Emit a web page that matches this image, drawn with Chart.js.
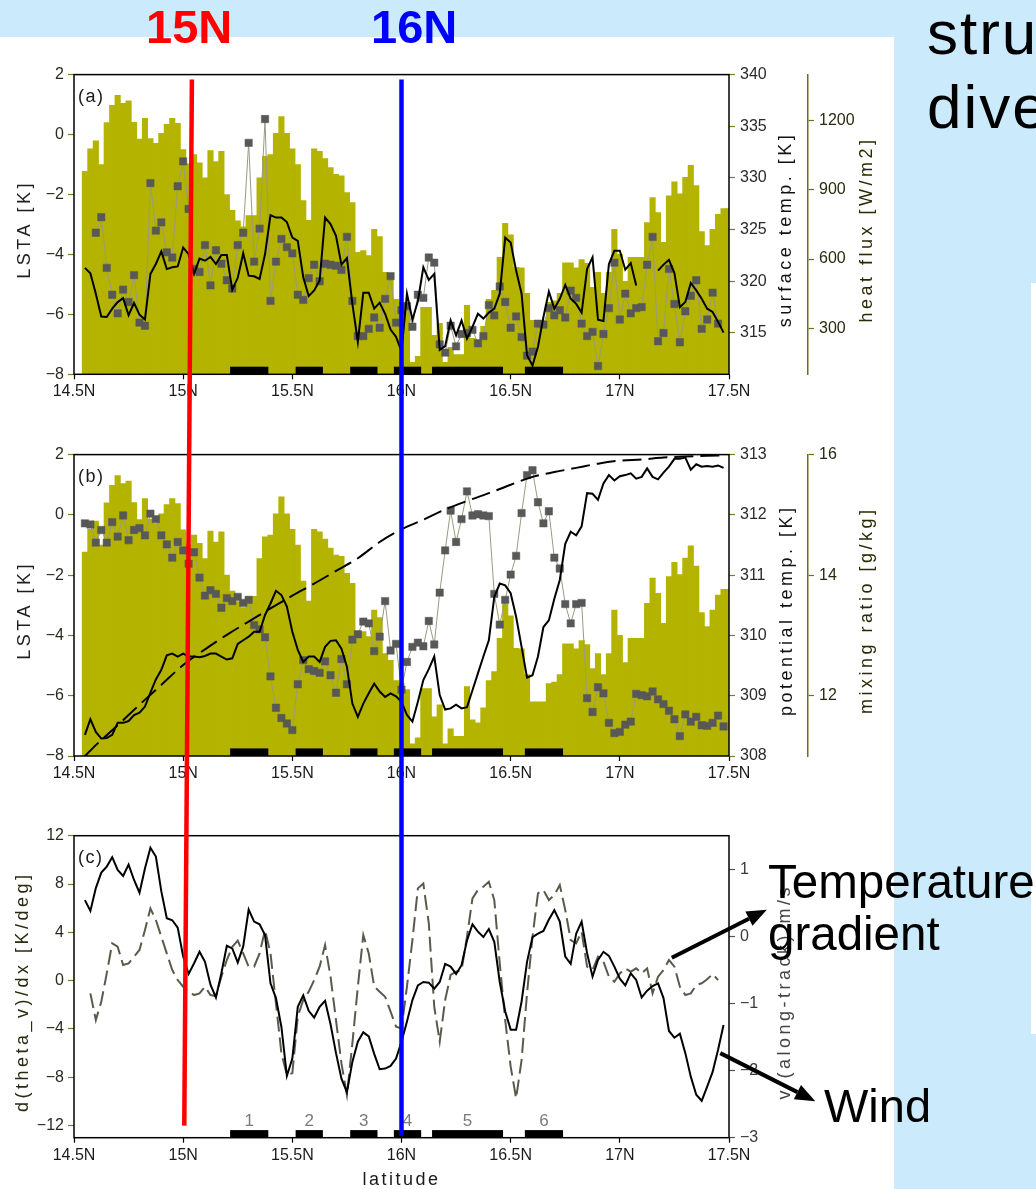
<!DOCTYPE html>
<html>
<head>
<meta charset="utf-8">
<script src="https://cdn.jsdelivr.net/npm/chart.js@4.4.0/dist/chart.umd.min.js"></script>
<style>
  html, body { margin: 0; padding: 0; }
  body { width: 1036px; height: 1189px; position: relative; overflow: hidden; background: #cbeafc;
         font-family: 'Liberation Sans', Arial, sans-serif; }
  #sheet { position: absolute; left: 0; top: 37px; width: 894px; height: 1152px; background: #fff; }
  #sheet2 { position: absolute; left: 1031px; top: 283px; width: 5px; height: 751px; background: #fff; }
  canvas.panel { position: absolute; left: 0; }
  #over { position: absolute; left: 0; top: 0; }
  .t { position: absolute; white-space: nowrap; line-height: 1; color: #000; }
</style>
</head>
<body>
<div id="sheet"></div>
<div id="sheet2"></div>
<canvas id="pa" class="panel" width="893" height="345" style="top:60px"></canvas>
<canvas id="pb" class="panel" width="893" height="345" style="top:440px"></canvas>
<canvas id="pc" class="panel" width="893" height="369" style="top:820px"></canvas>
<canvas id="over" width="1036" height="1189"></canvas>
<div class="t" style="left:146px;top:3px;font-size:47px;font-weight:bold;color:#f00">15N</div>
<div class="t" style="left:371px;top:3px;font-size:47px;font-weight:bold;color:#00f">16N</div>
<div class="t" style="left:927px;top:2px;font-size:62px;letter-spacing:2px">stru</div>
<div class="t" style="left:927px;top:76px;font-size:62px;letter-spacing:2px">dive</div>
<div class="t" style="left:768px;top:858px;font-size:47.5px">Temperature</div>
<div class="t" style="left:768px;top:910px;font-size:47.5px">gradient</div>
<div class="t" style="left:824px;top:1082px;font-size:47px">Wind</div>
<script>
// latitude grid: 14.55N .. 17.5N every 0.025 deg
const latStart = 14.55, latStep = 0.025;

// olive bars (heat flux, W/m2) - same bars shown in (a) and (b)
const heatFlux = [980,1078,1113,1010,1192,1267,1310,1275,1286,1193,
  1120,1210,1122,1102,1145,1184,1210,1189,1075,1013,
  1053,1017,952,1070,1023,1067,880,811,766,740,
  789,789,952,1045,1053,1145,1218,1145,1078,1010,
  854,768,1078,1067,1036,997,967,961,888,845,
  629,637,615,729,697,542,513,425,412,386,
  152,178,391,391,269,321,152,217,185,185,
  399,256,243,308,425,464,607,755,705,564,
  562,451,334,334,334,412,419,451,584,584,
  562,598,581,477,542,451,542,729,620,503,
  607,607,607,758,867,802,672,874,935,883,
  954,1006,919,719,658,729,794,819,819];

// (a) grey squares: surface temperature [K]
const surfTemp = [null,null,
  324.7,326.2,321.3,318.7,316.9,319.2,318.0,320.6,316.0,315.7,
  329.5,324.9,325.7,322.8,322.3,329.2,331.6,327.0,321.2,320.9,
  323.5,319.6,323.0,321.7,320.1,319.3,323.5,324.7,333.4,321.9,
  325.1,335.7,318.1,321.9,324.1,323.3,322.7,318.7,318.2,320.3,
  321.6,320.0,321.7,321.6,321.5,321.1,324.3,318.1,314.7,314.7,
  315.4,316.5,315.5,318.3,320.5,316.0,317.2,317.6,315.6,318.7,
  318.4,322.3,321.8,313.9,313.1,315.7,313.7,314.9,315.0,315.3,
  314.0,314.7,317.7,316.7,319.5,318.0,315.5,316.6,314.6,312.8,
  313.2,315.9,315.8,317.4,316.7,317.2,316.5,319.1,318.4,315.9,
  314.7,315.1,311.8,314.9,317.4,321.8,316.3,318.8,316.9,317.4,
  317.5,321.6,324.3,314.2,315.0,321.2,317.8,314.1,317.1,318.6,
  320.1,315.4,316.3,318.9,315.9,
  null,null];

// (a) black line: LSTA [K]
const lstaA = [-4.45,-4.63,-5.31,-6.07,-6.09,-5.81,-5.59,-5.46,-6.03,-5.62,
  -6.01,-6.17,-4.65,-4.32,-3.9,-4.49,-4.43,-4.4,-3.77,-3.99,
  -4.65,-4.14,-4.21,-4.08,-4.32,-4.02,-4.02,-5.18,-4.78,-3.96,
  -4.71,-4.73,-4.82,-3.99,-2.69,-2.77,-2.77,-2.92,-3.44,-3.55,
  -4.76,-5.39,-5.2,-4.87,-2.77,-2.99,-3.38,-4.34,-4.12,-5.65,
  -6.92,-5.28,-5.28,-5.81,-5.61,-5.98,-6.51,-6.75,-7.23,-5.31,
  -6.18,-5.56,-4.43,-4.85,-4.65,-7.19,-7.06,-6.2,-6.7,-6.2,
  -6.81,-6.42,-5.98,-6.14,-5.94,-5.81,-5.31,-3.44,-3.6,-4.54,
  -5.31,-7.36,-7.71,-7.08,-6.09,-5.24,-5.81,-5.48,-5.02,-5.48,
  -5.65,-5.94,-4.49,-4.1,-6.18,-6.22,-4.32,-3.88,-3.88,-4.51,
  -4.29,-5.04,null,null,null,-4.54,-4.34,-4.18,-4.62,-5.76,
  -5.59,-4.95,-5.2,-5.48,-5.81,-5.92,-6.25,-6.61,null];

// (b) grey squares: mixing ratio [g/kg]
const mixRatio = [14.86,14.84,14.54,14.75,14.54,14.88,14.64,14.99,14.58,14.75,
  14.78,14.66,15.02,14.93,14.66,14.51,14.29,14.55,14.41,14.19,
  14.38,13.96,13.66,13.75,13.69,13.46,13.62,13.57,13.64,13.54,
  13.59,13.17,13.10,12.97,12.32,11.80,11.63,11.54,11.43,12.19,
  12.59,12.44,12.41,12.38,12.57,12.34,12.05,12.61,12.19,12.93,
  13.02,13.23,13.20,12.74,12.98,13.57,12.75,12.86,12.10,12.56,
  12.81,12.88,12.82,13.24,12.85,13.71,14.41,15.07,14.55,14.93,
  15.39,14.99,15.01,14.99,14.98,13.69,13.18,13.59,14.01,14.32,
  15.03,15.66,15.74,15.21,14.86,15.06,14.29,14.11,13.52,13.20,
  13.52,13.54,11.96,11.73,12.14,12.04,11.55,11.38,11.40,11.52,
  11.57,12.03,12.01,11.99,12.07,11.94,11.86,11.75,11.61,11.33,
  11.69,11.57,11.65,11.51,11.50,11.55,11.67,11.49,null];

// (b) black line: potential temperature [K]
const thetaB = [308.35,308.61,308.40,308.29,308.30,308.35,308.55,308.55,308.58,308.68,
  308.72,308.82,309.05,309.27,309.43,309.67,309.70,309.65,309.70,309.65,
  309.65,309.64,309.66,309.70,309.70,309.65,309.60,309.62,309.86,309.92,
  309.98,310.06,310.06,310.34,310.53,310.74,310.67,310.48,310.06,309.76,
  309.56,309.65,309.65,309.56,309.81,309.91,309.92,309.78,309.48,308.87,
  308.65,308.87,309.04,309.20,309.07,308.98,309.04,308.99,308.90,308.68,
  308.57,308.90,309.26,309.44,309.65,309.01,308.77,308.79,308.85,308.79,
  308.81,309.09,309.37,309.65,309.92,310.64,310.86,310.83,310.70,310.31,
  309.81,309.30,309.34,309.65,310.14,310.25,310.61,310.92,311.52,311.72,
  311.66,311.81,312.36,312.35,312.25,312.52,312.66,312.57,312.64,312.66,
  312.69,312.60,312.63,312.77,312.63,312.59,312.70,312.80,312.93,312.93,
  312.95,312.75,312.84,312.80,312.81,312.80,312.82,312.78,null];

// (b) dashed line: potential temperature [K]
const dashLat = [14.55,14.6,14.7,14.8,14.9,15.0,15.1,15.2,15.3,15.4,15.5,15.6,15.7,15.8,15.9,
  16.0,16.1,16.2,16.3,16.4,16.5,16.6,16.7,16.8,16.9,17.0,17.1,17.2,17.3,17.4,17.48];
const thetaDash = [308.0,308.18,308.51,308.85,309.18,309.51,309.77,310.01,310.23,310.45,310.66,310.86,311.07,311.28,311.55,
  311.76,311.92,312.09,312.23,312.36,312.5,312.63,312.71,312.78,312.85,312.9,312.92,312.95,312.97,312.98,312.99];

// (c) dashed: d(theta_v)/dx [K/deg]
const gradC = [null,-1.05,-3.26,-1.74,0.60,3.09,2.81,1.29,1.43,1.98,
  2.54,4.19,5.98,5.02,3.64,2.26,0.88,0.05,-0.50,-0.91,
  -1.19,-1.05,-0.50,-1.19,-1.27,0.33,1.71,2.81,3.31,2.26,
  1.16,1.16,2.26,4.19,2.26,-1.88,-6.02,-7.81,-7.67,-2.98,
  -1.60,-0.91,0.05,1.16,2.95,0.33,-3.26,-6.85,-9.47,-5.19,
  -0.50,3.78,2.26,-0.50,-0.91,-1.33,-2.57,-3.81,-3.95,-0.50,
  3.36,7.64,8.05,4.74,-2.16,-5.05,-1.60,0.47,0.74,0.88,
  3.64,6.81,7.50,7.78,8.19,6.67,1.43,-3.26,-7.12,-9.74,
  -6.57,-1.05,3.64,7.23,7.50,6.67,7.09,7.92,5.85,3.36,
  3.09,4.05,1.16,0.88,1.98,1.57,0.33,-0.09,0.60,1.02,
  0.74,1.02,0.60,1.02,-1.05,0.33,0.88,1.71,1.16,-0.50,
  -1.19,-1.05,-0.36,-0.22,0.11,0.55,0.05,null,null];

// (c) solid: v (along-track) [m/s]
const windC = [0.54,0.38,0.72,0.95,1.04,1.18,0.99,0.90,1.07,0.84,
  0.65,1.01,1.32,1.19,0.67,0.27,0.24,0.13,-0.30,-0.56,
  -0.40,-0.23,-0.38,-0.72,-0.91,-0.55,-0.14,-0.18,-0.39,-0.15,
  0.40,0.22,0.18,0.02,-0.70,-0.92,-1.35,-2.08,-1.82,-1.05,
  -0.88,-1.11,-1.21,-1.05,-0.96,-1.31,-1.74,-2.12,-2.32,-1.87,
  -1.57,-1.43,-1.49,-1.75,-1.98,-1.97,-1.93,-1.82,-1.57,-1.27,
  -0.95,-0.73,-0.68,-0.69,-0.78,-0.68,-0.41,-0.45,-0.56,-0.43,
  -0.06,0.18,0.07,-0.01,0.11,-0.08,-0.68,-1.12,-1.39,-1.39,
  -0.97,-0.38,-0.01,0.04,0.08,0.25,0.39,0.22,-0.30,-0.41,
  0.04,0.22,-0.25,-0.60,-0.35,-0.23,-0.29,-0.45,-0.63,-0.73,
  -0.55,-0.65,-0.91,-0.81,-0.74,-0.70,-0.92,-1.41,-1.51,-1.45,
  -1.74,-2.09,-2.36,-2.45,-2.24,-2.02,-1.69,-1.32,null];

// flight segments (black boxes) and their numbers
const segStart = [15.215, 15.515, 15.765, 15.965, 16.14, 16.565];
const segEnd   = [15.39, 15.64, 15.89, 16.09, 16.465, 16.74];
const segNames = ['1', '2', '3', '4', '5', '6'];

// tick labels
const latTicks   = [14.5, 15, 15.5, 16, 16.5, 17, 17.5];
const lstaTicks  = [-8, -6, -4, -2, 0, 2];
const surfTicks  = [315, 320, 325, 330, 335, 340];
const fluxTicks  = [300, 600, 900, 1200];
const thetaTicks = [308, 309, 310, 311, 312, 313];
const mixTicks   = [12, 14, 16];
const gradTicks  = [-12, -8, -4, 0, 4, 8, 12];
const windTicks  = [-3, -2, -1, 0, 1];

// marker lines drawn across the panels
const mark15 = { top: 15.04, bottom: 15.005 };
const mark16 = 16.0;

const FONT = "'Liberation Sans', Arial, sans-serif";
const OLIVE = '#b3b300';
Chart.defaults.font.family = FONT;

const lat = heatFlux.map((_, i) => +(latStart + latStep * i).toFixed(3));
const pts = (ys, xs = lat) => ys.map((y, i) => ({ x: xs[i], y }));
const fmt = v => (v < 0 ? '\u2212' + (-v) : String(v));

function xAxis(h) {
  return {
    type: 'linear', min: 14.5, max: 17.5, offset: false,
    afterBuildTicks: s => { s.ticks = latTicks.map(v => ({ value: v })); },
    afterFit: s => { s.height = h; },
    border: { display: false },
    grid: { offset: false, drawOnChartArea: false, drawTicks: true, tickLength: 5, tickColor: '#000', tickWidth: 1.2 },
    ticks: { color: '#1a1a1a', font: { size: 16 }, padding: 3, maxRotation: 0, autoSkip: false,
             callback: v => (Number.isInteger(v) ? String(v) : v.toFixed(1)) + 'N' }
  };
}

function yAxis(pos, min, max, ticks, width, o = {}) {
  return {
    type: 'linear', position: pos, min, max, weight: o.weight || 0,
    afterBuildTicks: s => { s.ticks = ticks.map(v => ({ value: v })); },
    afterFit: s => { s.width = width; },
    border: { display: !!o.line, color: o.line, width: 1.5 },
    grid: { drawOnChartArea: false, drawTicks: true, tickLength: 6, tickColor: o.tick || '#7d7d20', tickWidth: 1.2 },
    ticks: { color: o.color || '#2a2a20', font: { size: 16 }, padding: pos === 'left' ? 4 : 5, autoSkip: false, callback: fmt }
  };
}

function deco(p) {
  return {
    id: 'deco',
    afterDatasetsDraw(chart) {
      const c = chart.ctx, a = chart.chartArea, xs = chart.scales.x;
      c.save();
      segStart.forEach((s, k) => {
        const x0 = xs.getPixelForValue(s), x1 = xs.getPixelForValue(segEnd[k]);
        c.fillStyle = '#000';
        c.fillRect(x0, a.bottom - 7.6, x1 - x0, 7.6);
        if (p.segNumbers) {
          c.fillStyle = '#7a7a7a';
          c.font = '17px ' + FONT;
          c.textAlign = 'center';
          c.textBaseline = 'alphabetic';
          c.fillText(segNames[k], (x0 + x1) / 2, a.bottom - 11.5);
        }
      });
      c.strokeStyle = '#000';
      c.lineWidth = 1.5;
      c.strokeRect(a.left, a.top, a.right - a.left, a.bottom - a.top);
      c.fillStyle = '#1a1a1a';
      c.font = '18px ' + FONT;
      c.letterSpacing = '1.5px';
      c.textAlign = 'left';
      c.textBaseline = 'alphabetic';
      c.fillText(p.label, a.left + 4, a.top + 27);
      c.restore();
    },
    afterDraw(chart) {
      const c = chart.ctx, a = chart.chartArea;
      c.save();
      c.font = '18px ' + FONT;
      c.letterSpacing = '3.5px';
      c.textAlign = 'center';
      c.textBaseline = 'middle';
      p.titles.forEach(t => {
        const s = chart.scales[t.scale];
        c.save();
        c.translate(s.left + t.dx, (a.top + a.bottom) / 2 + 5);
        c.rotate(-Math.PI / 2);
        c.fillStyle = t.color;
        c.fillText(t.text, 0, 0);
        c.restore();
      });
      if (p.xTitle) {
        c.letterSpacing = '2.5px';
        c.fillStyle = '#1a1a1a';
        c.fillText(p.xTitle, (a.left + a.right) / 2, a.bottom + 42);
      }
      c.restore();
    }
  };
}

function makeChart(id, p) {
  return new Chart(document.getElementById(id), {
    type: 'bar',
    data: { datasets: p.datasets },
    options: {
      responsive: false, animation: false, devicePixelRatio: 1, events: [],
      layout: { padding: { top: p.top, right: p.right || 0, left: 0, bottom: 0 } },
      plugins: { legend: { display: false }, tooltip: { enabled: false } },
      scales: Object.assign({ x: xAxis(p.xh) }, p.scales)
    },
    plugins: [deco(p)]
  });
}

const barSet = axis => ({
  type: 'bar', data: pts(heatFlux), yAxisID: axis, backgroundColor: OLIVE,
  borderWidth: 0, barPercentage: 1, categoryPercentage: 1, order: 10
});
const squareSet = (vals, axis) => ({
  type: 'line', data: pts(vals), yAxisID: axis, borderColor: '#9a9a80', borderWidth: 1,
  pointStyle: 'rect', pointRadius: 5.2, pointBackgroundColor: '#585858', pointBorderColor: '#585858',
  pointBorderWidth: 0.5, tension: 0, order: 3
});
const lineSet = (data, axis, color, dash, order) => ({
  type: 'line', data, yAxisID: axis, borderColor: color, borderWidth: 2, borderDash: dash || [],
  pointRadius: 0, tension: 0, order
});

const chartA = makeChart('pa', {
  top: 12.7, xh: 30.7, label: '(a)',
  scales: {
    y: yAxis('left', -8, 2, lstaTicks, 74),
    y2: yAxis('right', 311, 340, surfTicks, 79, { color: '#2a2a2a' }),
    y3: yAxis('right', 100, 1400, fluxTicks, 85, { weight: 1, line: '#6e6e14', tick: '#6e6e14', color: '#2a2a10' })
  },
  titles: [
    { scale: 'y', dx: 25, text: 'LSTA [K]', color: '#1e1e1e' },
    { scale: 'y2', dx: 57, text: 'surface temp. [K]', color: '#111' },
    { scale: 'y3', dx: 59, text: 'heat flux [W/m2]', color: '#2a2a00' }
  ],
  datasets: [barSet('y3'), squareSet(surfTemp, 'y2'), lineSet(pts(lstaA), 'y', '#000', null, 2)]
});

const chartB = makeChart('pb', {
  top: 14.3, xh: 29, label: '(b)',
  scales: {
    y: yAxis('left', -8, 2, lstaTicks, 74),
    y2: yAxis('right', 308, 313, thetaTicks, 79, { color: '#2a2a2a' }),
    y3: yAxis('right', 11, 16, mixTicks, 85, { weight: 1, line: '#6e6e14', tick: '#6e6e14', color: '#2a2a10' }),
    yh: { type: 'linear', display: false, min: 100, max: 1400 }
  },
  titles: [
    { scale: 'y', dx: 25, text: 'LSTA [K]', color: '#1e1e1e' },
    { scale: 'y2', dx: 58, text: 'potential temp. [K]', color: '#111' },
    { scale: 'y3', dx: 59, text: 'mixing ratio [g/kg]', color: '#2a2a00' }
  ],
  datasets: [
    barSet('yh'),
    squareSet(mixRatio, 'y3'),
    lineSet(pts(thetaB), 'y2', '#000', null, 2),
    Object.assign(lineSet(pts(thetaDash, dashLat), 'y2', '#000', [19, 7], 1), { cubicInterpolationMode: 'monotone' })
  ]
});

const chartC = makeChart('pc', {
  top: 15.7, xh: 51.3, right: 85, label: '(c)', segNumbers: true, xTitle: 'latitude',
  scales: {
    y: yAxis('left', -13, 12, gradTicks, 74),
    y2: yAxis('right', -3, 1.5, windTicks, 79, { color: '#3a3a3a', tick: '#555' })
  },
  titles: [
    { scale: 'y', dx: 23, text: 'd(theta_v)/dx [K/deg]', color: '#2a2a10' },
    { scale: 'y2', dx: 56, text: 'v (along-track) m/s', color: '#444' }
  ],
  datasets: [
    lineSet(pts(gradC), 'y', '#5a5a4c', [15, 6], 2),
    lineSet(pts(windC), 'y2', '#000', null, 1)
  ]
});

// overlay: latitude markers and annotation arrows, placed through the chart scales
const ov = document.getElementById('over').getContext('2d');
const px = (ch, v) => ch.canvas.offsetLeft + ch.scales.x.getPixelForValue(v);
const py = (ch, axis, v) => ch.canvas.offsetTop + ch.scales[axis].getPixelForValue(v);
const topOf = ch => ch.canvas.offsetTop + ch.chartArea.top;
const bottomOf = ch => ch.canvas.offsetTop + ch.chartArea.bottom;

function seg(x0, y0, x1, y1, color, w) {
  ov.strokeStyle = color; ov.lineWidth = w; ov.lineCap = 'butt';
  ov.beginPath(); ov.moveTo(x0, y0); ov.lineTo(x1, y1); ov.stroke();
}
seg(px(chartA, mark15.top), topOf(chartA) + 5, px(chartC, mark15.bottom), py(chartC, 'y', -12), '#ff0000', 4.5);
seg(px(chartA, mark16), topOf(chartA) + 5, px(chartC, mark16), bottomOf(chartC) - 2, '#0000ff', 4.5);

function arrow(x0, y0, x1, y1) {
  const ang = Math.atan2(y1 - y0, x1 - x0), L = 20, W = 8;
  const bx = x1 - L * Math.cos(ang), by = y1 - L * Math.sin(ang);
  seg(x0, y0, bx, by, '#000', 4);
  ov.fillStyle = '#000';
  ov.beginPath();
  ov.moveTo(x1, y1);
  ov.lineTo(bx + W * Math.sin(ang), by - W * Math.cos(ang));
  ov.lineTo(bx - W * Math.sin(ang), by + W * Math.cos(ang));
  ov.closePath(); ov.fill();
}
const a1x = px(chartC, 17.238), a1y = py(chartC, 'y', 1.9);
arrow(a1x, a1y, a1x + 95, a1y - 48);
const a2x = px(chartC, 17.46), a2y = py(chartC, 'y2', -1.74);
arrow(a2x, a2y, a2x + 95, a2y + 48);
</script>
</body>
</html>
